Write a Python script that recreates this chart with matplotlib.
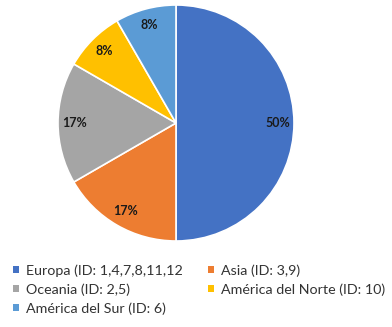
import matplotlib
matplotlib.use("Agg")
import matplotlib.pyplot as plt
from matplotlib.patches import Patch

categories = ["Europa (ID: 1,4,7,8,11,12", "Asia (ID: 3,9)", "Oceania (ID: 2,5)",
              "América del Norte (ID: 10)", "América del Sur (ID: 6)"]
counts = [6, 2, 2, 1, 1]
colors = ["#4472C4", "#ED7D31", "#A5A5A5", "#FFC000", "#5B9BD5"]

plt.rcParams['font.family'] = ['Lato', 'DejaVu Sans']

W, H = 392, 327
fig = plt.figure(figsize=(W/100, H/100), dpi=100)
cx, cy, r = 176, 123, 118
ax = fig.add_axes([(cx - r)/W, (H - cy - r)/H, 2*r/W, 2*r/H])
wedges, texts, autotexts = ax.pie(
    counts, colors=colors, startangle=90, counterclock=False,
    autopct=lambda p: f"{p:.0f}%", pctdistance=0.86,
    wedgeprops=dict(edgecolor="white", linewidth=1.2),
    textprops=dict(fontsize=9, fontweight="bold", color="#1a1a1a"))
ax.set_xlim(-1, 1)
ax.set_ylim(-1, 1)
ax.set_aspect("equal")

order = [0, 2, 4, 1, 3]
handles = [Patch(facecolor=colors[i], edgecolor="none") for i in order]
labels = [categories[i] for i in order]
fig.legend(handles, labels, ncol=2, loc="upper left", bbox_to_anchor=(13/W, 1 - 264/H),
           frameon=False, fontsize=10.3, handlelength=0.42, handleheight=0.42,
           handletextpad=0.5, columnspacing=1.75, labelspacing=0.45,
           labelcolor="#333333", borderpad=0, borderaxespad=0)

fig.savefig("out.png", dpi=100)
